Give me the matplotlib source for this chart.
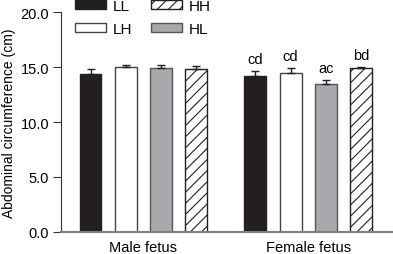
import matplotlib
matplotlib.use("Agg")
import matplotlib.pyplot as plt
import numpy as np

plt.rcParams['font.family'] = ['Liberation Sans', 'DejaVu Sans']
plt.rcParams['hatch.linewidth'] = 0.8

groups = ["Male fetus", "Female fetus"]
series = ["LL", "LH", "HL", "HH"]
means = {
    "LL": [14.4, 14.25],
    "LH": [15.0, 14.5],
    "HL": [14.9, 13.45],
    "HH": [14.85, 14.9],
}
sems = {
    "LL": [0.4, 0.45],
    "LH": [0.25, 0.45],
    "HL": [0.35, 0.4],
    "HH": [0.25, 0.12],
}
letters = {
    "LL": ["", "cd"],
    "LH": ["", "cd"],
    "HL": ["", "ac"],
    "HH": ["", "bd"],
}

face = {"LL": "#231f20", "LH": "white", "HL": "#a7a9ac", "HH": "white"}
edge = {"LL": "#231f20", "LH": "#444444", "HL": "#555555", "HH": "#231f20"}
hatch = {"LL": None, "LH": None, "HL": None, "HH": "///"}

group_x = np.array([0.0, 4.67])
width = 0.62

fig = plt.figure(figsize=(3.93, 2.55), dpi=100)
ax = fig.add_axes([61 / 393, 1 - 232.7 / 255, 332 / 393, 219.2 / 255])

handles = {}
for i, s in enumerate(series):
    x = group_x + i
    b = ax.bar(x, means[s], width, color=face[s], edgecolor=edge[s],
               hatch=hatch[s], linewidth=1.0, zorder=2)
    handles[s] = b
    ax.errorbar(x, means[s], yerr=[np.zeros(2), sems[s]], fmt="none",
                ecolor="#231f20", elinewidth=1.0, capsize=2.6, capthick=1.0,
                zorder=3)
    for xi, m, e, t in zip(x, means[s], sems[s], letters[s]):
        if t:
            ax.annotate(t, (xi, m + e), xytext=(0, 3.5), textcoords="offset points",
                        ha="center", va="bottom", fontsize=10.5)

ax.set_xlim(-0.836, 8.57)
ax.set_ylim(0, 20)
ax.set_yticks([0, 5, 10, 15, 20])
ax.set_yticklabels(["0.0", "5.0", "10.0", "15.0", "20.0"])
ax.set_xticks(group_x + 1.5)
ax.set_xticklabels(groups)
ax.tick_params(axis="x", length=0, pad=6, labelsize=10.5)
ax.tick_params(axis="y", length=5.5, width=0.8, pad=3, labelsize=10.5, color="#333333")
ax.set_ylabel("Abdominal circumference (cm)", fontsize=10, labelpad=3)

ax.spines["top"].set_visible(False)
ax.spines["right"].set_visible(False)
ax.spines["left"].set_color("#333333")
ax.spines["left"].set_linewidth(0.8)
ax.spines["bottom"].set_color("#808080")
ax.spines["bottom"].set_linewidth(1.5)

fig.legend([handles["LL"], handles["LH"], handles["HH"], handles["HL"]],
           ["LL", "LH", "HH", "HL"], ncol=2, frameon=False,
           loc="upper left", bbox_to_anchor=(75 / 393, 1.0),
           borderpad=0, borderaxespad=0, handlelength=2.0, handleheight=0.5,
           handletextpad=0.5, columnspacing=1.2, labelspacing=0.6,
           fontsize=11)

fig.savefig("out.png", dpi=100)
